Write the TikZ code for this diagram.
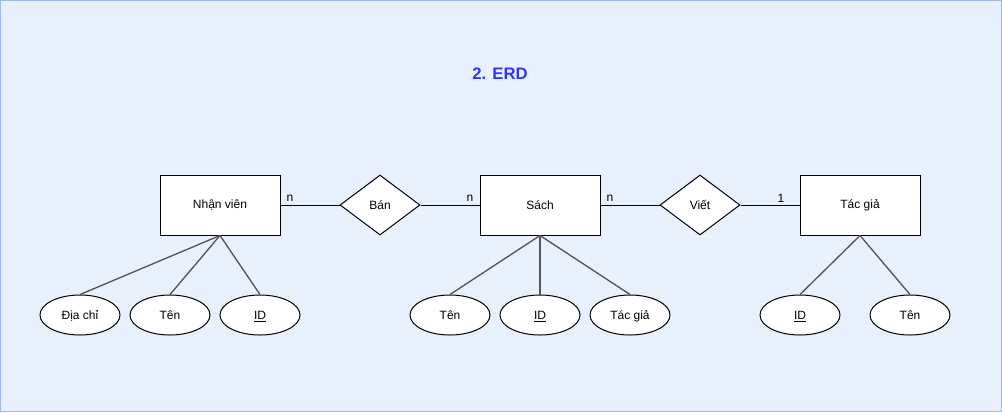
\documentclass[tikz,border=0pt]{standalone}
\usepackage{fontspec}
\setmainfont{Liberation Sans}
\usetikzlibrary{shapes.geometric}

\definecolor{bgblue}{RGB}{232,240,252}
\definecolor{frameblue}{RGB}{160,185,228}
\definecolor{titleblue}{RGB}{51,51,255}
\definecolor{linkgray}{RGB}{85,85,85}

\begin{document}
\begin{tikzpicture}[x=0.75pt,y=-0.75pt,line width=0.75pt,
  font=\fontsize{9}{11}\selectfont,
  entity/.style={draw,fill=white,inner sep=0pt,minimum width=90pt,minimum height=45pt},
  relation/.style={draw,fill=white,diamond,inner sep=0pt,minimum width=60pt,minimum height=45pt},
  attribute/.style={draw,fill=white,ellipse,inner sep=0pt,minimum width=60pt,minimum height=30pt,
    text height=6.5pt,text depth=0pt},
  link/.style={draw=linkgray,line width=1pt}]

% page size:
\pgfmathsetmacro\pwidth{1002};
\pgfmathsetmacro\pheight{412};
% rows:
\pgfmathsetmacro\ytop{205};
\pgfmathsetmacro\ybot{315};

\useasboundingbox (0,0) rectangle (\pwidth,\pheight);
\draw[draw=frameblue,fill=bgblue] (0.5,0.5) rectangle (\pwidth-0.5,\pheight-0.5);

\node[font=\fontsize{12.5}{14}\selectfont\bfseries,text=titleblue] (title) at (500,74) {2. ERD};

% entities and relations:
\node[entity] (nhanvien) at (220,\ytop) {Nhận viên};
\node[relation] (ban) at (380,\ytop) {Bán};
\node[entity] (sach) at (540,\ytop) {Sách};
\node[relation] (viet) at (700,\ytop) {Viết};
\node[entity] (tacgia) at (860,\ytop) {Tác giả};

\draw (nhanvien) -- (ban);
\draw (ban) -- (sach);
\draw (sach) -- (viet);
\draw (viet) -- (tacgia);

\node (cardA) at (290,198) {n};
\node (cardB) at (470,198) {n};
\node (cardC) at (610,198) {n};
\node (cardD) at (781,198) {1};

% attributes:
\newcommand{\attr}[4]{
  \node[attribute] (#1) at (#2,\ybot) {#3};
  \draw[link] (#4.south) -- (#1.north)
}
\foreach \nm/\xx/\txt/\owner in {diachi/80/Địa chỉ/nhanvien, tennv/170/Tên/nhanvien, idnv/260/\underline{ID}/nhanvien,
  tens/450/Tên/sach, ids/540/\underline{ID}/sach, tacgias/630/Tác giả/sach,
  idtg/800/\underline{ID}/tacgia, tentg/910/Tên/tacgia}{
  \attr{\nm}{\xx}{\txt}{\owner};
}

\end{tikzpicture}
\end{document}
